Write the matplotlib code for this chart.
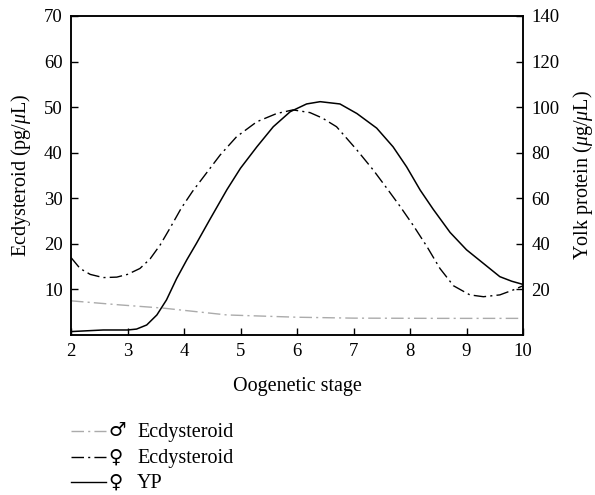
import matplotlib
matplotlib.use("Agg")
import matplotlib.pyplot as plt
from matplotlib.lines import Line2D

plt.rcParams["font.family"] = ["Liberation Serif", "DejaVu Sans"]
plt.rcParams["mathtext.fontset"] = "custom"
plt.rcParams["mathtext.rm"] = "Liberation Serif"
plt.rcParams["mathtext.it"] = "Liberation Serif:italic"

# female ecdysteroid (pg/uL) vs oogenetic stage
stage_f = [2.0, 2.16, 2.34, 2.57, 2.81, 3.0, 3.22, 3.4, 3.58, 3.75, 3.95, 4.15, 4.34,
           4.64, 4.93, 5.29, 5.64, 5.93, 6.23, 6.45, 6.7, 7.06, 7.35, 7.59, 7.82,
           8.06, 8.3, 8.53, 8.77, 9.06, 9.3, 9.59, 9.83, 10.0]
ecd_female = [17.0, 14.6, 13.3, 12.6, 12.7, 13.3, 14.6, 16.7, 19.8, 23.4, 27.8, 31.5, 34.6,
              39.5, 43.5, 46.8, 48.6, 49.4, 48.8, 47.6, 45.7, 40.6, 36.2, 32.2, 28.3,
              24.0, 19.4, 14.6, 10.8, 8.8, 8.4, 8.8, 9.9, 10.8]

# male ecdysteroid (pg/uL)
stage_m = [2.0, 2.87, 3.63, 4.76, 6.0, 7.0, 8.5, 10.0]
ecd_male = [7.5, 6.6, 5.9, 4.4, 3.9, 3.7, 3.65, 3.65]

# yolk protein (ug/uL)
stage_yp = [2.0, 2.57, 3.0, 3.16, 3.34, 3.52, 3.69, 3.87, 4.05, 4.22, 4.46, 4.76, 5.0,
            5.29, 5.58, 5.88, 6.17, 6.41, 6.76, 7.06, 7.41, 7.7, 7.94, 8.18, 8.41,
            8.71, 9.0, 9.3, 9.59, 9.8, 10.0]
yp = [1.5, 2.2, 2.2, 2.6, 4.4, 8.8, 15.4, 24.8, 33.0, 40.2, 50.8, 63.8, 73.2,
      82.6, 91.4, 98.0, 101.4, 102.4, 101.4, 97.2, 90.8, 82.6, 73.8, 63.6, 55.2,
      45.0, 37.4, 31.4, 25.6, 23.6, 22.2]

legend_labels = ["Ecdysteroid", "Ecdysteroid", "YP"]
legend_symbols = ["\u2642", "\u2640", "\u2640"]

W, H = 595, 495
gray = "#ababab"
dashdot = (0, (9, 3, 1.5, 3))

fig = plt.figure(figsize=(W / 100, H / 100), dpi=100)
ax = fig.add_axes([71 / W, 1 - 335 / H, 452 / W, 319 / H])
ax2 = ax.twinx()

ax.plot(stage_m, ecd_male, color=gray, lw=1.0, ls=dashdot)
ax.plot(stage_f, ecd_female, color="black", lw=1.0, ls=dashdot)
ax2.plot(stage_yp, yp, color="black", lw=1.1)

ax.set_xlim(2, 10)
ax.set_ylim(0, 70)
ax2.set_ylim(0, 140)
ax.set_yticks([10, 20, 30, 40, 50, 60, 70])
ax2.set_yticks([20, 40, 60, 80, 100, 120, 140])
ax.set_xticks(range(2, 11))

for a in (ax, ax2):
    a.tick_params(direction="in", length=5, width=1, labelsize=13.5, pad=6)
    for s in a.spines.values():
        s.set_linewidth(1.1)

ax.set_xlabel("Oogenetic stage", fontsize=14.5, labelpad=12)
ax.set_ylabel("Ecdysteroid (pg/$\\mu$L)", fontsize=14.5, labelpad=8)
ax2.set_ylabel("Yolk protein ($\\mu$g/$\\mu$L)", fontsize=14.5, labelpad=8)

# legend below the plot, drawn by hand to get the large sex symbols
styles = [(gray, dashdot), ("black", dashdot), ("black", "-")]
row_y = [431, 457, 482]
for (c, ls), sym, lab, y in zip(styles, legend_symbols, legend_labels, row_y):
    fy = 1 - y / H
    fig.add_artist(Line2D([71 / W, 106 / W], [fy, fy], transform=fig.transFigure,
                          color=c, lw=1.0, ls=ls))
    fig.text(108 / W, fy, sym, fontsize=14, family="DejaVu Sans", va="center", ha="left")
    fig.text(137 / W, 1 - (y + 6) / H, lab, fontsize=14.5, va="baseline", ha="left")

fig.savefig("out.png", dpi=100)
